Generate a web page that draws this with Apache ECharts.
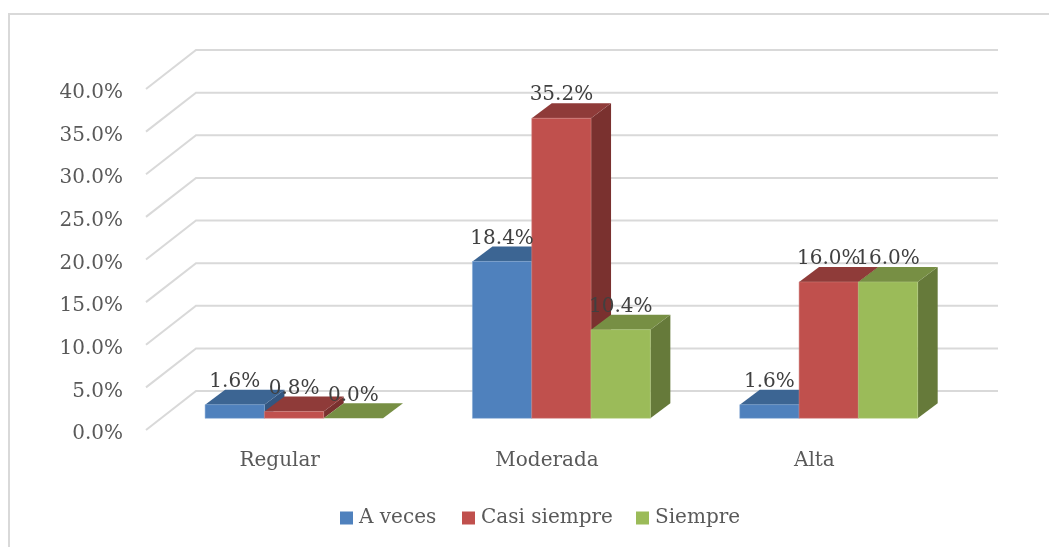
<!DOCTYPE html>
<html><head><meta charset="utf-8">
<style>html,body{margin:0;padding:0;background:#fff}#c{width:1049px;height:547px}</style>
<script src="https://cdn.jsdelivr.net/npm/echarts@6/dist/echarts.min.js"></script>
</head><body><div id="c"></div>
<script>
var categories = ['Regular', 'Moderada', 'Alta'];
var aVeces = [1.6, 18.4, 1.6];
var casiSiempre = [0.8, 35.2, 16.0];
var siempre = [0.0, 10.4, 16.0];
var yTicks = [0, 5, 10, 15, 20, 25, 30, 35, 40];

var FONT = '"DejaVu Serif", serif';
var WALL = {dx: 50, dy: -39};
var BAR_OFF = {dx: 14.4, dy: -11.7};
var BAR_DEPTH = {dx: 20, dy: -15};
var BAR_W = 59.3;

var palettes = {
  'A veces': {front: '#4F81BD', top: '#3C6593', side: '#335680', edge: '#7FA5D3'},
  'Casi siempre': {front: '#C0504D', top: '#8F3B39', side: '#7A312F', edge: '#D08583'},
  'Siempre': {front: '#9BBB59', top: '#778F44', side: '#667A3A', edge: '#B7CF85'}
};

function barRender(name, idx) {
  var p = palettes[name];
  return function (params, api) {
    var base = api.coord([api.value(0), 0]);
    var topC = api.coord([api.value(0), api.value(1)]);
    var x0 = base[0] + BAR_OFF.dx - BAR_W * 1.5 + idx * BAR_W;
    var x1 = x0 + BAR_W;
    var y0 = base[1] + BAR_OFF.dy;
    var y1 = topC[1] + BAR_OFF.dy;
    var d = BAR_DEPTH;
    var ch = [];
    ch.push({type: 'polygon', shape: {points: [[x1, y0], [x1 + d.dx, y0 + d.dy], [x1 + d.dx, y1 + d.dy], [x1, y1]]}, style: {fill: p.side}});
    ch.push({type: 'polygon', shape: {points: [[x0, y1], [x0 + d.dx, y1 + d.dy], [x1 + d.dx, y1 + d.dy], [x1, y1]]}, style: {fill: p.top}});
    if (y0 - y1 > 0.1) {
      ch.push({type: 'rect', shape: {x: x0, y: y1, width: BAR_W, height: y0 - y1}, style: {fill: p.front, stroke: p.edge, lineWidth: 0.5}});
    }
    return {type: 'group', children: ch};
  };
}
function labelRender(idx) {
  return function (params, api) {
    var topC = api.coord([api.value(0), api.value(1)]);
    var base = api.coord([api.value(0), 0]);
    var x = base[0] + BAR_OFF.dx - BAR_W * 1.5 + (idx + 0.5) * BAR_W;
    var y = topC[1] + BAR_OFF.dy - 23;
    return {type: 'text', style: {x: x, y: y, text: api.value(1).toFixed(1) + '%', font: '20px ' + FONT, fill: '#404040', textAlign: 'center', textVerticalAlign: 'middle'}};
  };
}
function wallRender(params, api) {
  var c = api.coord([0, api.value(0)]);
  var s = params.coordSys;
  var y = c[1];
  return {type: 'polyline', shape: {points: [[s.x, y], [s.x + WALL.dx, y + WALL.dy], [s.x + s.width + WALL.dx, y + WALL.dy]]},
    style: {fill: 'none', stroke: '#D9D9D9', lineWidth: 2}};
}

var names = ['A veces', 'Casi siempre', 'Siempre'];
var values = [aVeces, casiSiempre, siempre];
var legendLefts = [340, 462, 636];
var series = [{type: 'custom', name: 'wall', silent: true, z: 1, renderItem: wallRender,
  data: yTicks.map(function (t) { return [t]; }), encode: {y: 0}}];
names.forEach(function (n, i) {
  series.push({type: 'custom', name: n, z: 2 + i, itemStyle: {color: palettes[n].front}, renderItem: barRender(n, i),
    data: values[i].map(function (v, k) { return [k, v]; }), encode: {x: 0, y: 1}});
});
names.forEach(function (n, i) {
  series.push({type: 'custom', name: n + ' labels', z: 10, silent: true, renderItem: labelRender(i),
    data: values[i].map(function (v, k) { return [k, v]; }), encode: {x: 0, y: 1}});
});

var chart = echarts.init(document.getElementById('c'), null, {renderer: 'canvas'});
chart.setOption({
  animation: false,
  backgroundColor: '#fff',
  grid: {left: 146, top: 89, width: 802, height: 341, containLabel: false},
  xAxis: {type: 'category', data: categories, axisLine: {show: false}, axisTick: {show: false}, splitLine: {show: false},
    axisLabel: {color: '#595959', fontFamily: FONT, fontSize: 20, margin: 21}},
  yAxis: {type: 'value', min: 0, max: 40, interval: 5, axisLine: {show: false}, axisTick: {show: false}, splitLine: {show: false},
    axisLabel: {color: '#595959', fontFamily: FONT, fontSize: 20, margin: 23, verticalAlign: 'top', lineHeight: 8, formatter: function (v) { return v.toFixed(1) + '%'; }}},
  legend: names.map(function (n, i) {
    return {data: [n], left: legendLefts[i], top: 508, padding: 0, icon: 'rect', itemWidth: 13, itemHeight: 13, selectedMode: false,
      textStyle: {color: '#595959', fontFamily: FONT, fontSize: 20, padding: [0, 0, 0, 1]}};
  }),
  graphic: [
    {type: 'polyline', silent: true, shape: {points: [[9, 547], [9, 14], [1049, 14]]}, style: {fill: 'none', stroke: '#D9D9D9', lineWidth: 2}}
  ],
  series: series
});
</script></body></html>
